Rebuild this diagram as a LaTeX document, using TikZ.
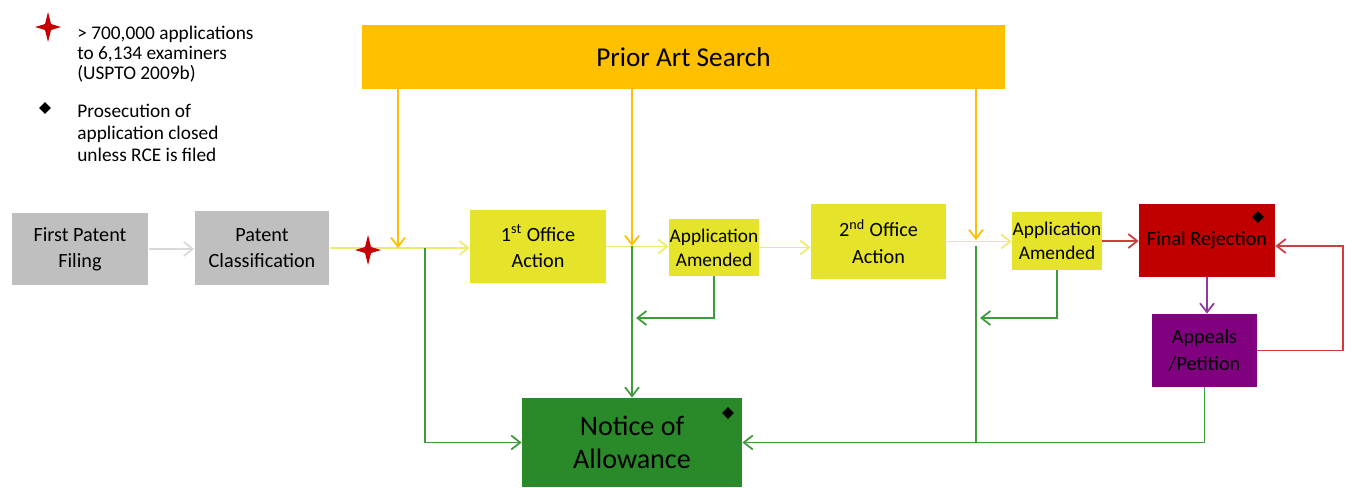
\documentclass[tikz,border=0pt]{standalone}
\usepackage{fontspec}
\setmainfont{Carlito}
\usetikzlibrary{arrows.meta,shapes.geometric}

\definecolor{filegray}{HTML}{BFBFBF}
\definecolor{filegrayline}{HTML}{D9D9D9}
\definecolor{searchorange}{HTML}{FFC000}
\definecolor{actyellow}{HTML}{E6E32B}
\definecolor{actyellowline}{HTML}{EEEB72}
\definecolor{allowgreen}{HTML}{2A8A2A}
\definecolor{allowgreenline}{HTML}{3C9C3C}
\definecolor{rejectred}{HTML}{C00000}
\definecolor{rejectredline}{HTML}{D23C3C}
\definecolor{appealpurple}{HTML}{800080}
\definecolor{appealpurpleline}{HTML}{8E3A9E}

% four pointed star, given its centre
\newcommand\redstar[1]{\fill[rejectred!90!red] #1 ++(0,-15) -- ++(3,12) -- ++(10,3) -- ++(-10,3)
  -- ++(-3,12) -- ++(-3,-12) -- ++(-10,-3) -- ++(10,-3) -- cycle;}

\begin{document}
\begin{tikzpicture}[x=0.02cm, y=-0.02cm,
  box/.style={align=center, inner sep=0pt, text=black, font=\fontsize{11.5}{15}\selectfont},
  smallbox/.style={box, font=\fontsize{11}{13.5}\selectfont, minimum width=1.8cm},
  note/.style={align=left, inner sep=0pt, anchor=north west},
  blackgem/.style={diamond, fill=black, inner sep=0pt, minimum size=0.24cm},
  link/.style={line width=1pt, -{Straight Barb[length=1.8mm, width=2.8mm]}},
  plain/.style={line width=1pt}]
  \useasboundingbox (0,0) rectangle (1348,487);

  % legend
  \redstar{(48,27)}
  \node[note, font=\fontsize{11}{11.4}\selectfont] (starnote) at (77,26)
    {> 700,000 applications\\to 6,134 examiners\\(USPTO 2009b)};
  \node[blackgem] (legendgem) at (45,108) {};
  \node[note, font=\fontsize{11}{12.5}\selectfont] (gemnote) at (77,104)
    {Prosecution of\\application closed\\unless RCE is filed};

  % boxes
  \node[box, fill=filegray, minimum width=2.74cm, minimum height=1.44cm] (filing) at (80,249) {First Patent\\Filing};
  \node[box, fill=filegray, minimum width=2.7cm, minimum height=1.48cm] (classif) at (262,248) {Patent\\Classification};
  \node[box, fill=searchorange, minimum width=12.86cm, minimum height=1.28cm,
    font=\fontsize{15.5}{18}\selectfont] (search) at (683.5,57) {Prior Art Search};
  \node[box, fill=actyellow, minimum width=2.72cm, minimum height=1.46cm] (action1) at (538,246.5) {1\textsuperscript{st} Office\\Action};
  \node[smallbox, fill=actyellow, minimum height=1.14cm] (amend1) at (714,247.5) {Application\\Amended};
  \node[box, fill=actyellow, minimum width=2.7cm, minimum height=1.5cm] (action2) at (878.5,241.5) {2\textsuperscript{nd} Office\\Action};
  \node[smallbox, fill=actyellow, minimum height=1.16cm] (amend2) at (1057,241) {Application\\Amended};
  \node[box, fill=rejectred, minimum width=2.72cm, minimum height=1.46cm] (reject) at (1207,240.5) {Final Rejection};
  \node[box, fill=appealpurple, minimum width=2.1cm, minimum height=1.46cm] (appeal) at (1204.5,350.5) {Appeals\\/Petition};
  \node[box, fill=allowgreen, minimum width=4.4cm, minimum height=1.78cm,
    font=\fontsize{16}{19}\selectfont] (allow) at (632,442.5) {Notice of\\Allowance};
  \node[blackgem] (rejectgem) at (1258,217) {};
  \node[blackgem] (allowgem) at (728,413) {};

  % main line
  \draw[link, filegrayline] (filing.east) -- (filing.east -| classif.west);
  \draw[link, actyellowline] (classif.east) -- (classif.east -| action1.west);
  \redstar{(368,250)}
  \coordinate (drop1) at (398,248);
  \coordinate (fork1) at (425,248);
  \draw[link, searchorange] (search.south -| drop1) -- (drop1);
  \draw[link, allowgreenline] (fork1) |- (allow.west);

  \draw[link, actyellowline] (action1.east) -- (action1.east -| amend1.west);
  \coordinate (drop2) at (632,246);
  \draw[link, searchorange] (search.south -| drop2) -- (drop2);
  \draw[link, allowgreenline] (drop2) -- (allow.north);
  \coordinate (back1) at (636,318);
  \draw[link, allowgreenline] (amend1.south) |- (back1);

  \draw[link, actyellowline] (amend1.east) -- (amend1.east -| action2.west);
  \draw[link, actyellowline] (action2.east) -- (action2.east -| amend2.west);
  \coordinate (drop3) at (976,240);
  \coordinate (fork3) at (976,246);
  \draw[link, searchorange] (search.south -| drop3) -- (drop3);
  \draw[plain, allowgreenline] (fork3) -- (fork3 |- allow.east);
  \coordinate (back2) at (980,318);
  \draw[link, allowgreenline] (amend2.south) |- (back2);

  % rejection loop
  \draw[link, rejectredline] (amend2.east) -- (amend2.east -| reject.west);
  \draw[link, appealpurpleline] (reject.south) -- (reject.south |- appeal.north);
  \coordinate (loop) at (1343,246);
  \draw[link, rejectredline] (appeal.east) -| (loop) -- (loop -| reject.east);
  \draw[link, allowgreenline] (appeal.south) |- (allow.east);
\end{tikzpicture}
\end{document}
